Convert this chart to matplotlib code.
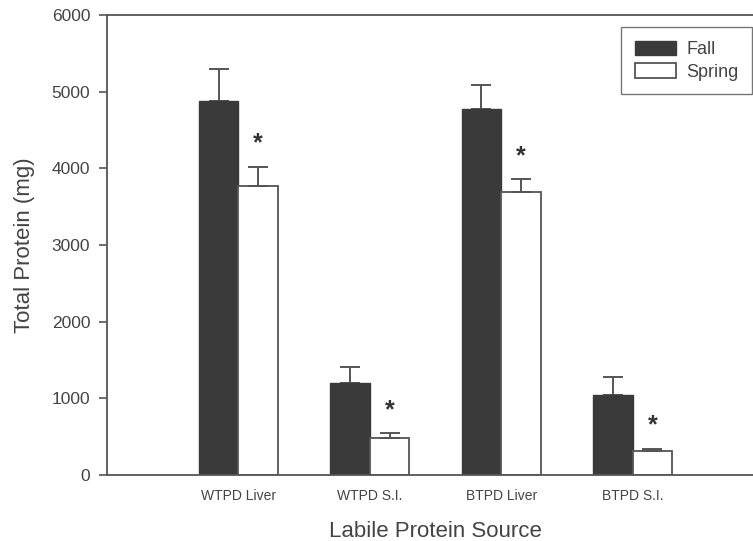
import matplotlib
matplotlib.use("Agg")
import matplotlib.pyplot as plt
import numpy as np

plt.rcParams['font.family'] = ['Liberation Sans', 'DejaVu Sans']

categories = ["WTPD Liver", "WTPD S.I.", "BTPD Liver", "BTPD S.I."]
fall = [4880, 1200, 4775, 1050]
fall_err = [415, 210, 315, 225]
spring = [3765, 483, 3695, 313]
spring_err = [255, 60, 165, 32]
significant = [True, True, True, True]

W, H = 753, 541
fig = plt.figure(figsize=(W/100, H/100), dpi=100)
ax = fig.add_axes([107/W, 66/H, 657/W, 460/H])

x = np.arange(1, len(categories) + 1)
bw = 0.30
edge = '#555555'
txt = '#444444'
ax.bar(x - bw/2, fall, bw, color='#3a3a3a', edgecolor='#3a3a3a', linewidth=1, label='Fall', zorder=2)
ax.bar(x + bw/2, spring, bw, color='white', edgecolor=edge, linewidth=1.3, label='Spring', zorder=2)
ax.errorbar(x - bw/2, fall, yerr=[np.zeros(len(fall)), fall_err], fmt='none',
            ecolor=edge, elinewidth=1.4, capsize=7.5, capthick=1.4, zorder=1)
ax.errorbar(x + bw/2, spring, yerr=[np.zeros(len(spring)), spring_err], fmt='none',
            ecolor=edge, elinewidth=1.4, capsize=7.5, capthick=1.4, zorder=3)
for xi, s, e, sig in zip(x, spring, spring_err, significant):
    if sig:
        ax.text(xi + bw/2, s + e + 300, '*', ha='center', va='center',
                fontsize=18, fontweight='bold', color='#333333')

ax.set_xlim(0, 5)
ax.set_ylim(0, 6000)
ax.set_yticks([0, 1000, 2000, 3000, 4000, 5000, 6000])
ax.set_xticks(x)
ax.set_xticklabels(categories, fontsize=10, color=txt)
ax.tick_params(axis='x', length=0, pad=10)
ax.tick_params(axis='y', direction='out', length=6, width=1.2, color=edge,
               labelsize=12.5, labelcolor=txt, pad=6)
for sp in ax.spines.values():
    sp.set_color(edge)
    sp.set_linewidth(1.3)

ax.set_ylabel('Total Protein (mg)', fontsize=16, color=txt, labelpad=12)
ax.set_xlabel('Labile Protein Source', fontsize=16, color=txt, labelpad=13)

leg = ax.legend(loc='upper right', bbox_to_anchor=(752/W, 1 - 27/H),
                bbox_transform=fig.transFigure, fontsize=13, frameon=True,
                fancybox=False, edgecolor=edge, handlelength=2.3, handleheight=0.85,
                borderpad=0.75, labelspacing=0.3, handletextpad=0.55,
                borderaxespad=0)
leg.get_frame().set_linewidth(1.0)
for t in leg.get_texts():
    t.set_color(txt)

fig.savefig('out.png', dpi=100)
